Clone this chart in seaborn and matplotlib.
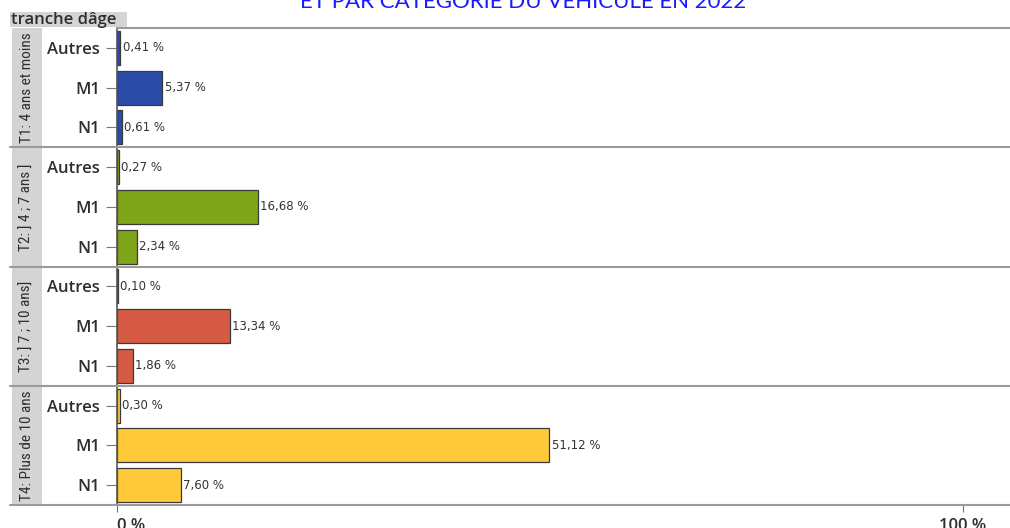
import matplotlib
matplotlib.use("Agg")
import matplotlib.pyplot as plt
import seaborn as sns
import pandas as pd
from matplotlib.patches import Rectangle
from matplotlib import font_manager

sns.set_style("white")
plt.rcParams['font.family'] = ['DejaVu Sans']

title = "ET PAR CATÉGORIE DU VÉHICULE EN 2022"
facet_title = "tranche dâge"
groups = ["T1: 4 ans et moins", "T2: ] 4 ; 7 ans ]", "T3: ] 7 ; 10 ans]", "T4: Plus de 10 ans"]
categories = ["Autres", "M1", "N1"]
values = [
    [0.41, 5.37, 0.61],
    [0.27, 16.68, 2.34],
    [0.10, 13.34, 1.86],
    [0.30, 51.12, 7.60],
]
colors = ["#2B4BA8", "#7FA51B", "#D65B45", "#FFC93A"]
xticks = [0, 100]
xticklabels = ["0 %", "100 %"]

names = {f.name for f in font_manager.fontManager.ttflist}
narrow = None
for cand in ["Liberation Sans Narrow", "DejaVu Sans Condensed", "Roboto Condensed", "Open Sans Condensed"]:
    if cand in names:
        narrow = cand
        break

W, H = 1010, 528
fig = plt.figure(figsize=(W / 100, H / 100), dpi=100)

left_px, right_px = 117, 1010
top_px, bottom_px = 28, 505
ph = (bottom_px - top_px) / 4
axw = right_px - left_px
xmax = (right_px - left_px) / 8.46
txt = "#2e2e2e"
lab_font = dict(family=["Open Sans", "DejaVu Sans"], weight="semibold")

def fx(px):
    return px / W

def fy(py):
    return 1 - py / H

for i, (g, vals, col) in enumerate(zip(groups, values, colors)):
    t = top_px + i * ph
    ax = fig.add_axes([fx(left_px), fy(t + ph), fx(axw), ph / H])
    df = pd.DataFrame({"cat": categories, "pct": vals})
    sns.barplot(data=df, x="pct", y="cat", color=col, saturation=1, ax=ax,
                edgecolor="#3a3a3a", linewidth=0.9, width=0.85, orient="h")
    ax.set_xlim(0, xmax)
    ax.set_xlabel("")
    ax.set_ylabel("")
    labels = [f"{v:.2f}".replace(".", ",") + " %" for v in vals]
    ax.bar_label(ax.containers[0], labels=labels, fontsize=8.5, padding=1.5, color="#333333")
    for s in ["right", "bottom"]:
        ax.spines[s].set_visible(False)
    ax.spines["top"].set_color("#9a9a9a")
    ax.spines["top"].set_linewidth(1.5)
    ax.spines["left"].set_color("#555555")
    ax.spines["left"].set_linewidth(1.2)
    ax.tick_params(axis="y", length=8, width=0.8, color="#777777", labelsize=12,
                   labelcolor=txt, pad=4, left=True)
    for lab in ax.get_yticklabels():
        lab.set_family(lab_font["family"])
        lab.set_fontweight(lab_font["weight"])
    if i < 3:
        ax.set_xticks([])
    else:
        ax.spines["bottom"].set_visible(True)
        ax.spines["bottom"].set_color("#9a9a9a")
        ax.spines["bottom"].set_linewidth(1.5)
        ax.set_xticks(xticks)
        ax.set_xticklabels(xticklabels, fontsize=12, color=txt, **lab_font)
        ax.tick_params(axis="x", length=5, width=0.8, color="#777777", pad=4, bottom=True)
        ax.get_xticklabels()[0].set_horizontalalignment("left")
    # strip
    ax.add_patch(Rectangle(((12 - left_px) / axw, 0), 30 / axw, 1, transform=ax.transAxes,
                           facecolor="#d4d4d4", edgecolor="none", clip_on=False, zorder=0))
    if narrow:
        fam, fs = [narrow, "DejaVu Sans"], 11
    else:
        fam, fs = ["Liberation Sans", "DejaVu Sans"], 9
    ax.text((27 - left_px) / axw, 0.5, g, transform=ax.transAxes, rotation=90,
            ha="center", va="center", fontsize=fs, color=txt, family=fam)

# separator lines across the strip
for i in range(1, 5):
    y = fy(top_px + i * ph)
    fig.add_artist(plt.Line2D([fx(10), fx(left_px)], [y, y], color="#9a9a9a", lw=1.5))

# facet header
fig.add_artist(Rectangle((fx(10), fy(27)), fx(117), 15 / H, facecolor="#d4d4d4",
                         edgecolor="none"))
fig.text(fx(11), fy(20), facet_title, ha="left", va="center", fontsize=12,
         color=txt, **lab_font)

fig.text(fx(523), fy(8), title, ha="center", va="baseline", fontsize=16,
         color="#1a1aff", family=["Lato", "DejaVu Sans"])

fig.savefig("out.png", dpi=100)
